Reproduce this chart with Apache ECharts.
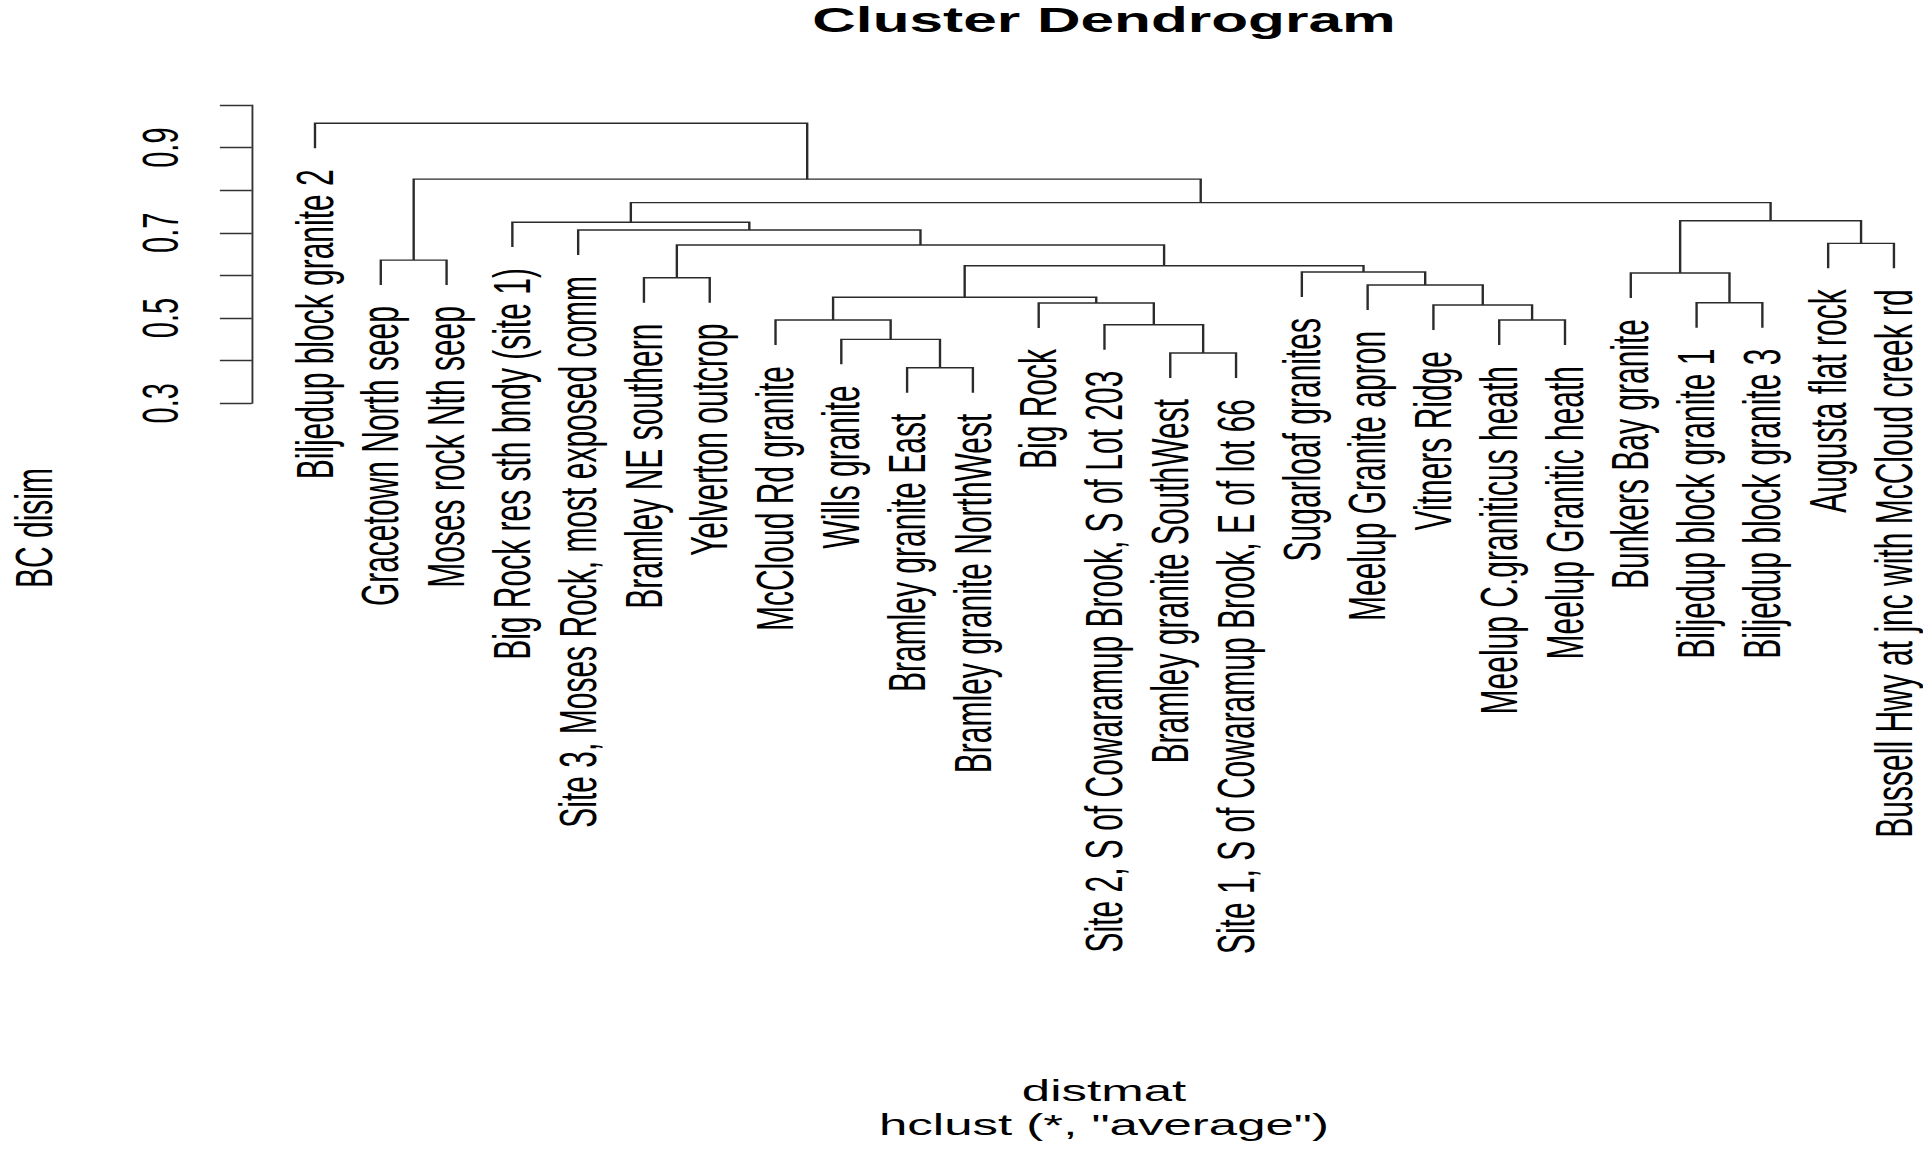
<!DOCTYPE html>
<html>
<head>
<meta charset="utf-8">
<title>Cluster Dendrogram</title>
<script src="https://cdn.jsdelivr.net/npm/echarts@6/dist/echarts.min.js"></script>
<style>
html, body { margin: 0; padding: 0; background: #fff; overflow: hidden; }
#wrapper { width: 1923px; height: 1150px; overflow: hidden; }
/* the source plot was stretched sideways, so draw it narrow and widen it;
   its plot region runs past the right edge, so the chart is a bit wider than the window */
#plot { width: 1160px; height: 1150px; transform: scaleX(1.7); transform-origin: 0 0; }
</style>
</head>
<body>
<div id="wrapper">
<div id="plot"></div>
</div>
<script>
// leaf labels in plotted order, left to right
const leafLabels = [
    'Biljedup block granite 2',
    'Gracetown North seep',
    'Moses rock Nth seep',
    'Big Rock res sth bndy (site 1)',
    'Site 3, Moses Rock, most exposed comm',
    'Bramley NE southern',
    'Yelverton outcrop',
    'McCloud Rd granite',
    'Wills granite',
    'Bramley granite East',
    'Bramley granite NorthWest',
    'Big Rock',
    'Site 2, S of Cowaramup Brook, S of Lot 203',
    'Bramley granite SouthWest',
    'Site 1, S of Cowaramup Brook, E of lot 66',
    'Sugarloaf granites',
    'Meelup Granite apron',
    'Vitners Ridge',
    'Meelup C.graniticus heath',
    'Meelup Granitic heath',
    'Bunkers Bay granite',
    'Biljedup block granite 1',
    'Biljedup block granite 3',
    'Augusta flat rock',
    'Bussell Hwy at jnc with McCloud creek rd'
];

// like hclust$merge: negative = leaf position, positive = earlier merge (1-based)
const mergePairs = [
    [-10, -11], [-14, -15], [-9, 1], [-13, 2], [-8, 3], [-19, -20],
    [-18, 6], [-12, 4], [-22, -23], [5, 8], [-17, 7], [-6, -7],
    [-21, 9], [-16, 11], [10, 14], [-2, -3], [12, 15], [-24, -25],
    [-5, 17], [-4, 19], [13, 18], [20, 21], [16, 22], [-1, 23]
];
const mergeHeights = [
    0.3835, 0.418, 0.450, 0.4844, 0.4954, 0.4954,
    0.5306, 0.5353, 0.536, 0.5487, 0.5776, 0.5947,
    0.6057, 0.608, 0.6229, 0.636, 0.6714, 0.6754,
    0.7067, 0.725, 0.7285, 0.771, 0.826, 0.957
];
const hang = 0.0585;

const yTickLabels = ['0.3', '0.5', '0.7', '0.9'];
const mainTitle = 'Cluster Dendrogram';
const xTitle = 'distmat';
const subTitle = 'hclust (*, "average")';
const yTitle = 'BC disim';

const FONT = '"Liberation Sans", Arial, sans-serif';

// walk the merges to get each node's x and each leaf's tip height
const nodeX = [];
const leafTip = [];
const linkData = [];
mergePairs.forEach(function (pair, k) {
    const h = mergeHeights[k];
    const ends = pair.map(function (m) {
        if (m < 0) {
            leafTip[-m] = h - hang;
            return [-m, h - hang];
        }
        return [nodeX[m - 1], mergeHeights[m - 1]];
    });
    nodeX[k] = (ends[0][0] + ends[1][0]) / 2;
    linkData.push([ends[0][0], ends[0][1], ends[1][0], ends[1][1], h]);
});
const leafData = leafLabels.map(function (name, i) {
    return [i + 1, leafTip[i + 1]];
});

const chart = echarts.init(document.getElementById('plot'), null, { renderer: 'svg' });
chart.setOption({
    animation: false,
    backgroundColor: '#fff',
    grid: {
        left: 148.14,
        top: 105,
        width: 1003.1,
        height: 298.3,
        containLabel: false
    },
    xAxis: {
        type: 'value',
        min: 0.04,
        max: 25.96,
        show: false
    },
    yAxis: {
        type: 'value',
        position: 'left',
        min: 0.3,
        max: 1.0,
        interval: 0.1,
        splitLine: { show: false },
        axisLine: {
            show: true,
            onZero: false,
            lineStyle: { color: '#333', width: 1.1 }
        },
        axisTick: {
            show: true,
            length: 18.8,
            lineStyle: { color: '#333', width: 1.3 }
        },
        axisLabel: {
            rotate: 90,
            margin: 39,
            fontSize: 29,
            fontFamily: FONT,
            color: '#000',
            formatter: function (v) {
                const s = v.toFixed(1);
                return yTickLabels.indexOf(s) >= 0 ? s : '';
            }
        }
    },
    graphic: [
        {
            type: 'text', x: 649.4, y: 19,
            style: { text: mainTitle, font: 'bold 35.5px ' + FONT, fill: '#000', align: 'center', verticalAlign: 'middle' }
        },
        {
            type: 'text', x: 649.4, y: 1091,
            style: { text: xTitle, font: '30px ' + FONT, fill: '#000', align: 'center', verticalAlign: 'middle' }
        },
        {
            type: 'text', x: 649.4, y: 1125,
            style: { text: subTitle, font: '30px ' + FONT, fill: '#000', align: 'center', verticalAlign: 'middle' }
        },
        {
            type: 'text', x: 20, y: 528, rotation: Math.PI / 2,
            style: { text: yTitle, font: '30px ' + FONT, fill: '#000', align: 'center', verticalAlign: 'middle' }
        }
    ],
    series: [
        {
            type: 'custom',
            name: 'links',
            data: linkData,
            encode: { x: [0, 2], y: [1, 3, 4] },
            renderItem: function (params, api) {
                const p1 = api.coord([api.value(0), api.value(1)]);
                const p2 = api.coord([api.value(0), api.value(4)]);
                const p3 = api.coord([api.value(2), api.value(4)]);
                const p4 = api.coord([api.value(2), api.value(3)]);
                return {
                    type: 'polyline',
                    shape: { points: [p1, p2, p3, p4] },
                    style: { stroke: '#2b2b2b', lineWidth: 1.4, fill: 'none', lineJoin: 'miter', lineCap: 'butt' }
                };
            }
        },
        {
            type: 'custom',
            name: 'leaves',
            data: leafData,
            encode: { x: 0, y: 1 },
            renderItem: function (params, api) {
                const p = api.coord([api.value(0), api.value(1)]);
                return {
                    type: 'text',
                    x: p[0],
                    y: p[1] + 21,
                    rotation: Math.PI / 2,
                    style: {
                        text: leafLabels[params.dataIndex],
                        font: '30px ' + FONT,
                        fill: '#000',
                        align: 'right',
                        verticalAlign: 'middle'
                    }
                };
            }
        }
    ]
});
</script>
</body>
</html>
